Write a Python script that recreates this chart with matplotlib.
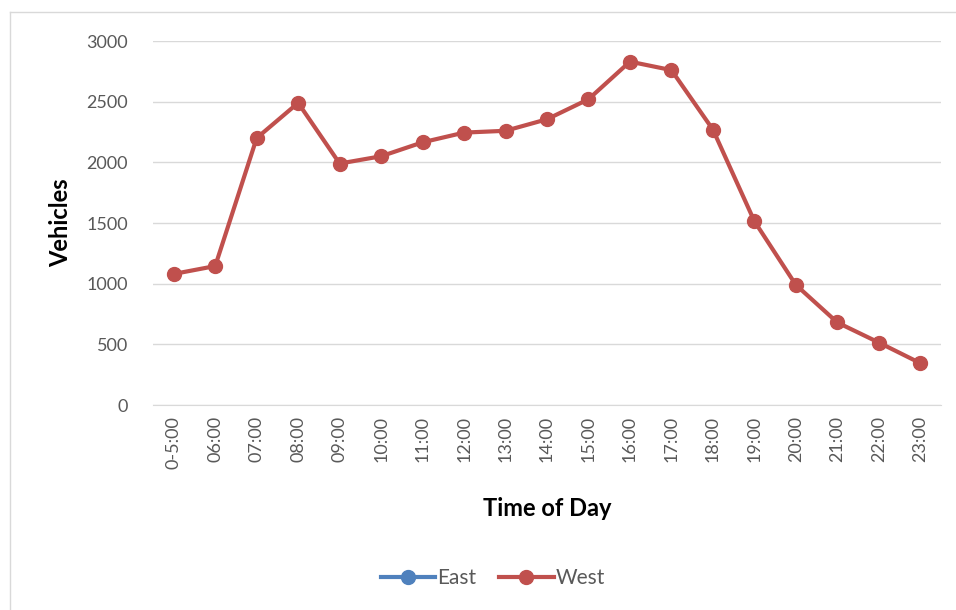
import matplotlib.pyplot as plt
from matplotlib.lines import Line2D

# hourly vehicle counts
hours = ['0-5:00', '06:00', '07:00', '08:00', '09:00', '10:00', '11:00', '12:00',
         '13:00', '14:00', '15:00', '16:00', '17:00', '18:00', '19:00', '20:00',
         '21:00', '22:00', '23:00']
east = []
west = [1080, 1145, 2200, 2490, 1990, 2050, 2165, 2245, 2260, 2355, 2520,
        2830, 2760, 2270, 1515, 990, 680, 515, 345]
y_ticks = [0, 500, 1000, 1500, 2000, 2500, 3000]

plt.rcParams['font.family'] = ['Lato', 'DejaVu Sans']

fig = plt.figure(figsize=(9.56, 6.10), dpi=100)
ax = fig.add_axes([153 / 956, 1 - 405 / 610, (941 - 153) / 956, (405 - 41) / 610])

ax.plot(range(len(east)), east, color='#4F81BD', lw=3, marker='o', ms=10, label='East')
ax.plot(range(len(west)), west, color='#C0504D', lw=3, marker='o', ms=10, label='West')

ax.set_xlim(-0.5, len(hours) - 0.5)
ax.set_ylim(0, 3000)
ax.set_yticks(y_ticks)
ax.set_xticks(range(len(hours)))
ax.set_xticklabels(hours, rotation=90)
ax.tick_params(length=0, labelsize=13, labelcolor='#595959')
ax.tick_params(axis='y', pad=18)
ax.tick_params(axis='x', pad=8)
ax.grid(axis='y', color='#D9D9D9', lw=1)
ax.set_axisbelow(True)
for s in ['top', 'right', 'left']:
    ax.spines[s].set_visible(False)
ax.spines['bottom'].set_color('#D9D9D9')

ax.set_ylabel('Vehicles', fontsize=17, fontweight='bold', labelpad=10)
ax.set_xlabel('Time of Day', fontsize=17, fontweight='bold', labelpad=20)

fig.legend(loc='center', bbox_to_anchor=(493 / 956, 1 - 578 / 610), ncol=2,
           frameon=False, fontsize=15, handlelength=2.6, handletextpad=0.1,
           columnspacing=1.1, labelcolor='#595959')

# chart area border
fig.add_artist(Line2D([10 / 956, 1.0], [1 - 12 / 610, 1 - 12 / 610], color='#D9D9D9', lw=1))
fig.add_artist(Line2D([10 / 956, 10 / 956], [0.0, 1 - 12 / 610], color='#D9D9D9', lw=1))

fig.savefig('out.png', dpi=100)
